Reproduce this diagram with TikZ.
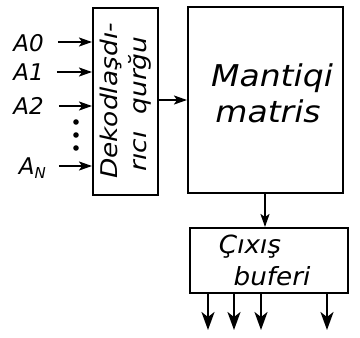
\documentclass[tikz,border=0pt]{standalone}
\usepackage{fontspec}
\setsansfont{DejaVu Sans}
\usetikzlibrary{arrows.meta}
\tikzset{
  blk/.style={draw, line width=2pt, inner sep=0pt, rectangle},
  arr/.style={line width=2pt, -{Stealth[length=13pt,width=9pt,inset=3pt]}},
  oarr/.style={line width=2.2pt, -{Stealth[length=18pt,width=13pt,inset=5pt]}},
  hw/.style={font=\sffamily\itshape, inner sep=0pt},
}
\begin{document}
\begin{tikzpicture}[x=1pt,y=-1pt]
\useasboundingbox (0,0) rectangle (360,338);
% blocks
\node[blk, minimum width=65pt, minimum height=187pt] (dec) at (125.5,101.5) {};
\node[blk, minimum width=155pt, minimum height=186pt] (mat) at (265.5,100) {};
\node[blk, minimum width=158pt, minimum height=65pt] (buf) at (269,260.5) {};
% decoder text
\node[hw, rotate=90] (dt1) at (111,101) {\fontsize{23}{23}\selectfont\scalebox{1.15}[1]{Dekodlaşdı-}};
\node[hw, rotate=90] (dt2) at (140,104) {\fontsize{23}{23}\selectfont\scalebox{1.15}[1]{rıcı\ \ qurğu}};
% matrix text
\node[hw] (mt1) at (272,78) {\fontsize{30}{30}\selectfont\scalebox{1.1}[1]{Mantiqi}};
\node[hw] (mt2) at (268,111) {\fontsize{30}{30}\selectfont\scalebox{1.1}[1]{matris}};
% buffer text
\node[hw] (bt1) at (250,247) {\fontsize{25}{25}\selectfont\scalebox{1.05}[1]{Çıxış}};
\node[hw] (bt2) at (272,276) {\fontsize{25}{25}\selectfont\scalebox{1.05}[1]{buferi}};
% input labels
\node[hw, anchor=east] (a0) at (44,43) {\fontsize{23}{23}\selectfont A0};
\node[hw, anchor=east] (a1) at (44,72) {\fontsize{23}{23}\selectfont A1};
\node[hw, anchor=east] (a2) at (44,106) {\fontsize{23}{23}\selectfont A2};
\node[hw, anchor=east] (an) at (46,168) {\fontsize{23}{23}\selectfont A\raisebox{-4pt}{\fontsize{15}{15}\selectfont N}};
% input arrow starts
\coordinate (i0) at (58,42);
\coordinate (i1) at (57,72);
\coordinate (i2) at (59,106);
\coordinate (in) at (59,166);
\draw[arr] (i0) -- (dec.west |- i0);
\draw[arr] (i1) -- (dec.west |- i1);
\draw[arr] (i2) -- (dec.west |- i2);
\draw[arr] (in) -- (dec.west |- in);
% dots
\fill (76,122) circle (2.8pt);
\fill (76,135) circle (2.8pt);
\fill (76,148) circle (2.8pt);
% connections
\coordinate (dm) at (158,100);
\draw[arr] (dm) -- (mat.west |- dm);
\coordinate (mb) at (265,193);
\draw[arr] (mb) -- (buf.north -| mb);
% outputs
\coordinate (o1) at (208,330);
\coordinate (o2) at (234,330);
\coordinate (o3) at (261,330);
\coordinate (o4) at (327,330);
\draw[oarr] (buf.south -| o1) -- (o1);
\draw[oarr] (buf.south -| o2) -- (o2);
\draw[oarr] (buf.south -| o3) -- (o3);
\draw[oarr] (buf.south -| o4) -- (o4);
\end{tikzpicture}
\end{document}
